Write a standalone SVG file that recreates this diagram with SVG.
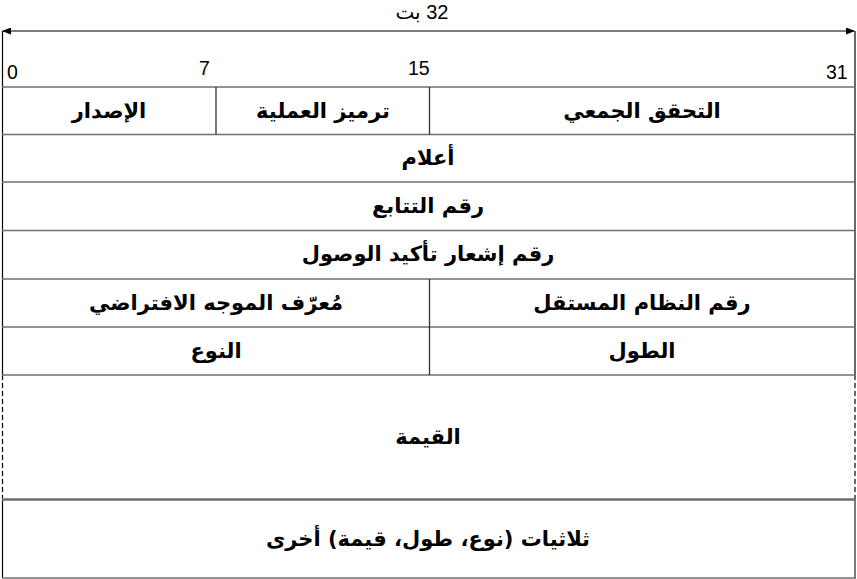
<svg xmlns="http://www.w3.org/2000/svg" width="857" height="579" viewBox="0 0 857 579">
<style>
.ar{font-family:"DejaVu Sans","Noto Sans",sans-serif;font-weight:bold;font-size:21px;fill:#000;text-anchor:middle;direction:rtl}
.num{font-family:"Liberation Sans",sans-serif;font-size:19.5px;fill:#000}
.hl{stroke:#6e6e6e;stroke-width:1.6;fill:none}
.vl{stroke:#333;stroke-width:1.3;fill:none}
.bk{stroke:#000;stroke-width:1.2;fill:none}
.dash{stroke:#000;stroke-width:1.2;fill:none;stroke-dasharray:5 3}
</style>
<defs>
<marker id="ah" markerWidth="9" markerHeight="7" refX="8" refY="3.5" orient="auto-start-reverse" markerUnits="userSpaceOnUse">
<path d="M0,0 L9,3.5 L0,7 Z" fill="#000"/>
</marker>
</defs>
<rect width="857" height="579" fill="#fff"/>
<g id="header">
<text x="422" y="19" class="num" style="font-size:20px;text-anchor:middle;direction:rtl;font-family:'Liberation Sans','DejaVu Sans',sans-serif">32 بت</text>
<text x="7" y="79" class="num">0</text>
<text x="199" y="75" class="num">7</text>
<text x="408" y="75" class="num">15</text>
<text x="826" y="79" class="num">31</text>
</g>
<g id="connectors">
<line x1="3" y1="31" x2="854" y2="31" class="bk" marker-start="url(#ah)" marker-end="url(#ah)"/>
<line x1="2.5" y1="31" x2="2.5" y2="375" class="bk"/>
<line x1="855" y1="31" x2="855" y2="375" class="bk"/>
<line x1="2.5" y1="375" x2="2.5" y2="499" class="dash"/>
<line x1="855" y1="375" x2="855" y2="499" class="dash"/>
<line x1="2.5" y1="499" x2="2.5" y2="578" class="bk"/>
<line x1="855" y1="499" x2="855" y2="578" class="vl"/>
<line x1="2" y1="87" x2="856" y2="87" class="hl"/>
<line x1="2" y1="134.5" x2="856" y2="134.5" class="hl"/>
<line x1="2" y1="182" x2="856" y2="182" class="hl"/>
<line x1="2" y1="230.5" x2="856" y2="230.5" class="hl"/>
<line x1="2" y1="279" x2="856" y2="279" class="hl"/>
<line x1="2" y1="327" x2="856" y2="327" class="hl"/>
<line x1="2" y1="375" x2="856" y2="375" class="hl"/>
<line x1="2" y1="499.5" x2="856" y2="499.5" class="hl" style="stroke-width:2.4"/>
<line x1="2" y1="578" x2="856" y2="578" class="hl"/>
<line x1="216" y1="87" x2="216" y2="134.5" class="vl"/>
<line x1="429.5" y1="87" x2="429.5" y2="134.5" class="vl"/>
<line x1="429.5" y1="279" x2="429.5" y2="375" class="vl"/>
</g>
<g id="version"><text x="109" y="118" class="ar">الإصدار</text></g>
<g id="opcode"><text x="323" y="118" class="ar">ترميز العملية</text></g>
<g id="checksum"><text x="642" y="118" class="ar">التحقق الجمعي</text></g>
<g id="flags"><text x="428" y="165" class="ar">أعلام</text></g>
<g id="seq"><text x="428" y="213" class="ar">رقم التتابع</text></g>
<g id="ack"><text x="428" y="261" class="ar">رقم إشعار تأكيد الوصول</text></g>
<g id="routerid"><text x="216" y="310" class="ar">مُعرّف الموجه الافتراضي</text></g>
<g id="asn"><text x="642" y="310" class="ar">رقم النظام المستقل</text></g>
<g id="type"><text x="216" y="358" class="ar">النوع</text></g>
<g id="length"><text x="642" y="358" class="ar">الطول</text></g>
<g id="value"><text x="428" y="444" class="ar">القيمة</text></g>
<g id="tlvs"><text x="428" y="546" class="ar">ثلاثيات (نوع، طول، قيمة) أخرى</text></g>
</svg>
